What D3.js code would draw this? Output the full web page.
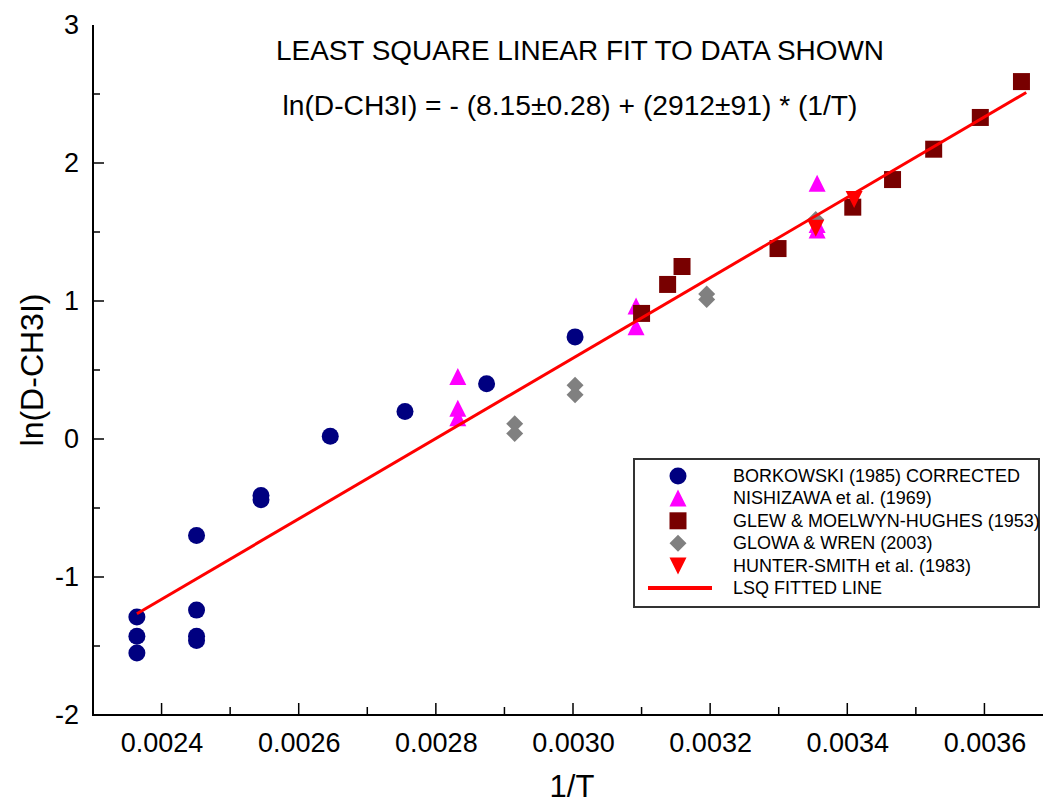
<!DOCTYPE html>
<html>
<head>
<meta charset="utf-8">
<script src="https://cdn.jsdelivr.net/npm/d3@7"></script>
<style>
  body { margin: 0; background: #fff; }
  svg { font-family: "Liberation Sans", Arial, sans-serif; }
</style>
</head>
<body>
<svg width="1043" height="803"></svg>
<script>
// data: [1/T, ln(D)]
var borkowski = [
  [0.002364, -1.29], [0.002364, -1.43], [0.002364, -1.55],
  [0.002451, -0.70], [0.002451, -1.24], [0.002451, -1.43], [0.002451, -1.46],
  [0.002545, -0.41], [0.002545, -0.44],
  [0.002646, 0.02], [0.002755, 0.20], [0.002874, 0.40], [0.003003, 0.74]
];
var nishizawa = [
  [0.002832, 0.45], [0.002832, 0.22], [0.002832, 0.15],
  [0.003092, 0.96], [0.003092, 0.81],
  [0.003356, 1.85], [0.003356, 1.55], [0.003356, 1.51]
];
var glew = [
  [0.003100, 0.91], [0.003138, 1.12], [0.003159, 1.25], [0.003299, 1.38],
  [0.003408, 1.68], [0.003466, 1.88], [0.003526, 2.10], [0.003594, 2.33],
  [0.003654, 2.59]
];
var glowa = [
  [0.002915, 0.11], [0.002915, 0.04], [0.003003, 0.39], [0.003003, 0.32],
  [0.003195, 1.05], [0.003195, 1.01], [0.003354, 1.59]
];
var hunter = [[0.003354, 1.53], [0.003410, 1.74]];

// ln(D) = -8.15 + 2912 * (1/T)
var fitIntercept = -8.15, fitSlope = 2912;
var fitRange = [0.002364, 0.003661];

var xTicks = [0.0024, 0.0026, 0.0028, 0.0030, 0.0032, 0.0034, 0.0036];
var yTicks = [-2, -1, 0, 1, 2, 3];

var legendNames = [
  "BORKOWSKI (1985) CORRECTED",
  "NISHIZAWA et al. (1969)",
  "GLEW & MOELWYN-HUGHES (1953)",
  "GLOWA & WREN (2003)",
  "HUNTER-SMITH et al. (1983)",
  "LSQ FITTED LINE"
];

var svg = d3.select("svg");

var x = d3.scaleLinear().domain([0.0023, 0.0037]).range([93, 1053]);
var y = d3.scaleLinear().domain([-2, 3]).range([715, 25]);

// marker shapes, about 17px across
function marker(kind) {
  var r = 8.5;
  if (kind == "circle") return d3.symbol(d3.symbolCircle, Math.PI * r * r)();
  if (kind == "square") return "M-8.5,-8.5H8.5V8.5H-8.5Z";
  if (kind == "up") return "M0,-9L8.5,8H-8.5Z";
  if (kind == "down") return "M0,9L8.5,-8H-8.5Z";
  if (kind == "diamond") return "M0,-8.5L8.5,0L0,8.5L-8.5,0Z";
}

var series = [
  { data: borkowski, kind: "circle", color: "#000080" },
  { data: nishizawa, kind: "up", color: "#ff00ff" },
  { data: glew, kind: "square", color: "#780000" },
  { data: glowa, kind: "diamond", color: "#808080" },
  { data: hunter, kind: "down", color: "#ff0000" }
];

// plain hyphen for negatives, like the original
var fmtY = d => String(d);

// axes
var xAxis = d3.axisBottom(x).tickValues(xTicks).tickSize(0).tickPadding(18)
  .tickFormat(d3.format(".4f"));
var gx = svg.append("g").attr("transform", "translate(0,715)").call(xAxis);
gx.select(".domain").attr("stroke-width", 2).attr("d", "M93,0H1043");
gx.selectAll("text").attr("font-size", 27).attr("fill", "#000");

var xMinor = d3.range(0.0024, 0.00365, 0.0001);
svg.append("g").selectAll("line").data(xMinor).join("line")
  .attr("x1", d => x(d)).attr("x2", d => x(d))
  .attr("y1", 715)
  .attr("y2", (d, i) => i % 2 == 0 ? 703 : 707)
  .attr("stroke", "#000").attr("stroke-width", 1.5);

var yAxis = d3.axisLeft(y).tickValues(yTicks).tickSize(0).tickPadding(14)
  .tickFormat(fmtY);
var gy = svg.append("g").attr("transform", "translate(93,0)").call(yAxis);
gy.select(".domain").attr("stroke-width", 2).attr("d", "M0,25V716");
gy.selectAll("text").attr("font-size", 27).attr("fill", "#000");

var yMinor = d3.range(-1.5, 3, 0.5);
svg.append("g").selectAll("line").data(yMinor).join("line")
  .attr("x1", 93)
  .attr("x2", d => Number.isInteger(d) ? 104 : 100)
  .attr("y1", d => y(d)).attr("y2", d => y(d))
  .attr("stroke", "#000").attr("stroke-width", 1.5);

// axis titles
svg.append("text").attr("x", 572).attr("y", 797).attr("text-anchor", "middle")
  .attr("font-size", 31).text("1/T");
svg.append("text").attr("transform", "translate(43,370) rotate(-90)")
  .attr("text-anchor", "middle").attr("font-size", 32).text("ln(D-CH3I)");

// header text
svg.append("text").attr("x", 580).attr("y", 60).attr("text-anchor", "middle")
  .attr("font-size", 27).attr("textLength", 608).attr("lengthAdjust", "spacingAndGlyphs")
  .text("LEAST SQUARE LINEAR FIT TO DATA SHOWN");
svg.append("text").attr("x", 570).attr("y", 115).attr("text-anchor", "middle")
  .attr("font-size", 27).attr("textLength", 575).attr("lengthAdjust", "spacingAndGlyphs")
  .text("ln(D-CH3I) = - (8.15\u00b10.28) + (2912\u00b191) * (1/T)");

// points
series.forEach(function (s) {
  svg.append("g").selectAll("path").data(s.data).join("path")
    .attr("transform", d => "translate(" + x(d[0]) + "," + y(d[1]) + ")")
    .attr("d", marker(s.kind))
    .attr("fill", s.color);
});

// fitted line
svg.append("line")
  .attr("x1", x(fitRange[0])).attr("y1", y(fitIntercept + fitSlope * fitRange[0]))
  .attr("x2", x(fitRange[1])).attr("y2", y(fitIntercept + fitSlope * fitRange[1]))
  .attr("stroke", "#ff0000").attr("stroke-width", 3);

// legend
var lg = svg.append("g");
lg.append("rect").attr("x", 634).attr("y", 459).attr("width", 405).attr("height", 148)
  .attr("fill", "#fff").attr("stroke", "#333").attr("stroke-width", 2);
legendNames.forEach(function (name, i) {
  var ly = 476 + i * 22.4;
  if (i < series.length) {
    lg.append("path").attr("transform", "translate(678," + ly + ")")
      .attr("d", marker(series[i].kind)).attr("fill", series[i].color);
  } else {
    lg.append("line").attr("x1", 648).attr("x2", 712).attr("y1", ly).attr("y2", ly)
      .attr("stroke", "#ff0000").attr("stroke-width", 4);
  }
  lg.append("text").attr("x", 733).attr("y", ly + 6).attr("font-size", 18).text(name);
});
</script>
</body>
</html>
